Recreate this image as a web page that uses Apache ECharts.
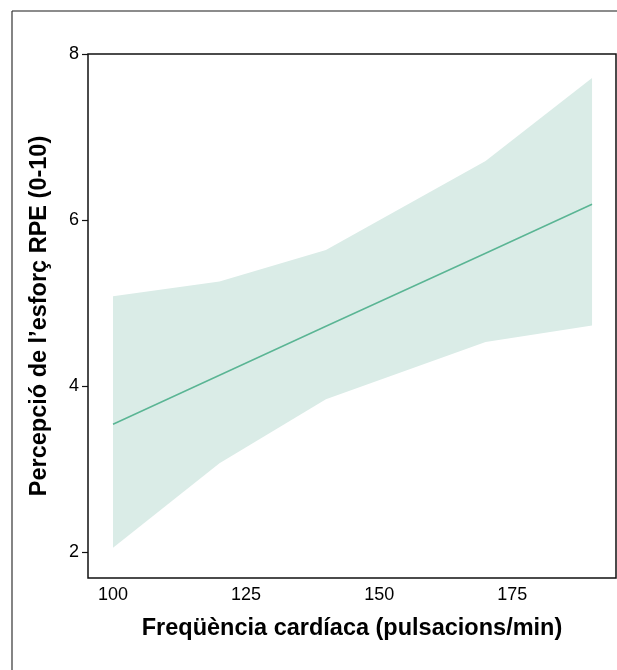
<!DOCTYPE html>
<html>
<head>
<meta charset="utf-8">
<script src="https://cdn.jsdelivr.net/npm/echarts@6/dist/echarts.min.js"></script>
<style>
  html, body { margin: 0; padding: 0; background: #fff; }
  #chart { width: 617px; height: 670px; }
</style>
</head>
<body>
<div id="chart"></div>
<script>
// valors llegits de la figura
const heartRate = [100, 120, 140, 170, 190];
const rpeFit = [3.54, 4.13, 4.72, 5.60, 6.19];
const rpeLower = [2.05, 3.07, 3.84, 4.53, 4.73];
const rpeUpper = [5.08, 5.26, 5.64, 6.71, 7.71];
const xTicks = [100, 125, 150, 175];
const yTicks = [2, 4, 6, 8];

const FONT = '"Liberation Sans", Arial, Helvetica, sans-serif';
const BAND = '#daece7';
const LINE = '#5ab594';

const chart = echarts.init(document.getElementById('chart'), null, { renderer: 'canvas' });

// banda de confiança: un sol polígon (superior d'anada, inferior de tornada)
function renderBand(params, api) {
    const top = heartRate.map((x, i) => api.coord([x, rpeUpper[i]]));
    const bottom = heartRate.map((x, i) => api.coord([x, rpeLower[i]])).reverse();
    return {
        type: 'polygon',
        shape: { points: top.concat(bottom) },
        style: { fill: BAND },
        silent: true,
    };
}

chart.setOption({
    animation: false,
    backgroundColor: '#fff',
    grid: {
        left: 88, top: 54, right: 1, bottom: 92,
        show: true, borderColor: '#111', borderWidth: 1.5, backgroundColor: 'transparent',
    },
    xAxis: {
        type: 'value',
        min: 95.3,
        max: 194.5,
        name: 'Freqüència cardíaca (pulsacions/min)',
        nameLocation: 'middle',
        nameGap: 39,
        nameTextStyle: { fontFamily: FONT, fontSize: 23.5, fontWeight: 'bold', color: '#000' },
        axisLine: { show: false },
        axisTick: { show: false },
        splitLine: { show: false },
        axisLabel: { customValues: xTicks, fontFamily: FONT, fontSize: 18, color: '#000', margin: 8 },
    },
    yAxis: {
        type: 'value',
        min: 1.687,
        max: 8,
        name: 'Percepció de l’esforç RPE (0-10)',
        nameLocation: 'middle',
        nameGap: 36,
        nameTextStyle: { fontFamily: FONT, fontSize: 23.5, fontWeight: 'bold', color: '#000' },
        axisLine: { show: false },
        axisTick: { show: true, customValues: yTicks, length: 6, lineStyle: { color: '#111', width: 1.2 } },
        splitLine: { show: false },
        axisLabel: { customValues: yTicks, fontFamily: FONT, fontSize: 18, color: '#000', margin: 9 },
    },
    graphic: [
        { type: 'line', shape: { x1: 12, y1: 11, x2: 617, y2: 11 }, style: { stroke: '#666', lineWidth: 1.5 }, silent: true },
        { type: 'line', shape: { x1: 12, y1: 11, x2: 12, y2: 670 }, style: { stroke: '#333', lineWidth: 1.2 }, silent: true },
    ],
    series: [
        {
            type: 'custom',
            renderItem: renderBand,
            data: [0],
            silent: true,
            z: 1,
        },
        {
            type: 'line',
            data: heartRate.map((x, i) => [x, rpeFit[i]]),
            symbol: 'none',
            lineStyle: { color: LINE, width: 1.5 },
            z: 5,
        },
    ],
});

window.addEventListener('resize', () => chart.resize());
</script>
</body>
</html>
